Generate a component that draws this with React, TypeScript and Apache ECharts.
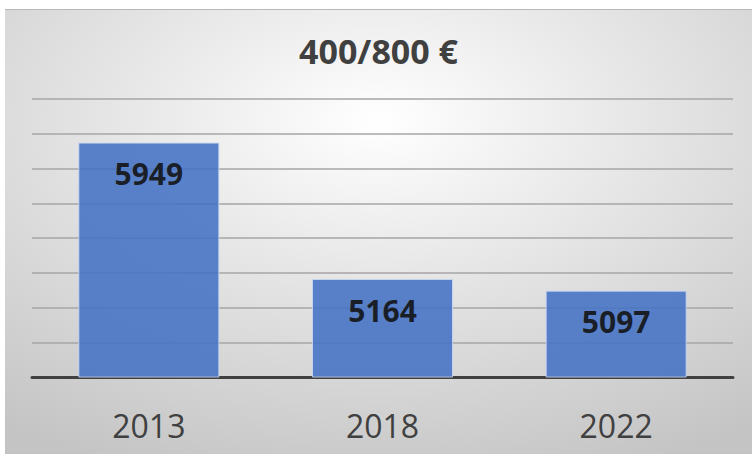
import React, { useEffect, useRef } from "react";
import * as echarts from "echarts";

const titleText = "400/800 €";
const categories = ["2013", "2018", "2022"];
const values = [5949, 5164, 5097];
const axisMin = 4600;
const axisMax = 6200;
const axisInterval = 200;

export default function App() {
  const ref = useRef<HTMLDivElement>(null);
  useEffect(() => {
    if (!ref.current) return;
    const chart = echarts.init(ref.current, undefined, { renderer: "svg" });
    chart.setOption({
      animation: false,
      backgroundColor: {
        type: "radial",
        x: 0.5,
        y: 0.25,
        r: 0.85,
        colorStops: [
          { offset: 0, color: "#ffffff" },
          { offset: 0.45, color: "#e4e4e4" },
          { offset: 1, color: "#c4c4c4" },
        ],
      },
      title: {
        text: titleText,
        left: "center",
        top: 24,
        padding: [0, 0, 0, 10],
        textStyle: {
          fontFamily: "Open Sans",
          fontWeight: "bold",
          fontSize: 34,
          lineHeight: 34,
          color: "#404040",
        },
      },
      grid: { left: 27, right: 19, top: 89, bottom: 77 },
      xAxis: {
        type: "category",
        data: categories,
        axisLine: { show: true, lineStyle: { color: "#404040", width: 3 } },
        axisTick: { show: false },
        axisLabel: {
          margin: 32,
          fontFamily: "Open Sans",
          fontSize: 32,
          lineHeight: 32,
          color: "#404040",
        },
      },
      yAxis: {
        type: "value",
        min: axisMin,
        max: axisMax,
        interval: axisInterval,
        axisLabel: { show: false },
        axisLine: { show: false },
        axisTick: { show: false },
        splitLine: { show: true, lineStyle: { color: "#a6a6a6", width: 1.5 } },
      },
      series: [
        {
          type: "bar",
          data: values,
          barWidth: 141,
          itemStyle: {
            color: "#4472C4",
            opacity: 0.88,
            borderColor: "#c8d6f0",
            borderWidth: 1,
          },
          label: {
            show: true,
            position: "insideTop",
            distance: 16,
            fontFamily: "Open Sans",
            fontWeight: "bold",
            fontSize: 30,
            lineHeight: 30,
            color: "#111111",
          },
        },
      ],
    });
    return () => chart.dispose();
  }, []);
  return (
    <div style={{ position: "fixed", left: 0, top: 0, width: 752, height: 454, background: "#ffffff" }}>
      <div
        ref={ref}
        style={{
          position: "absolute",
          left: 5,
          top: 9,
          width: 747,
          height: 445,
          borderTop: "1px solid #b8b8b8",
          boxSizing: "border-box",
        }}
      />
    </div>
  );
}
